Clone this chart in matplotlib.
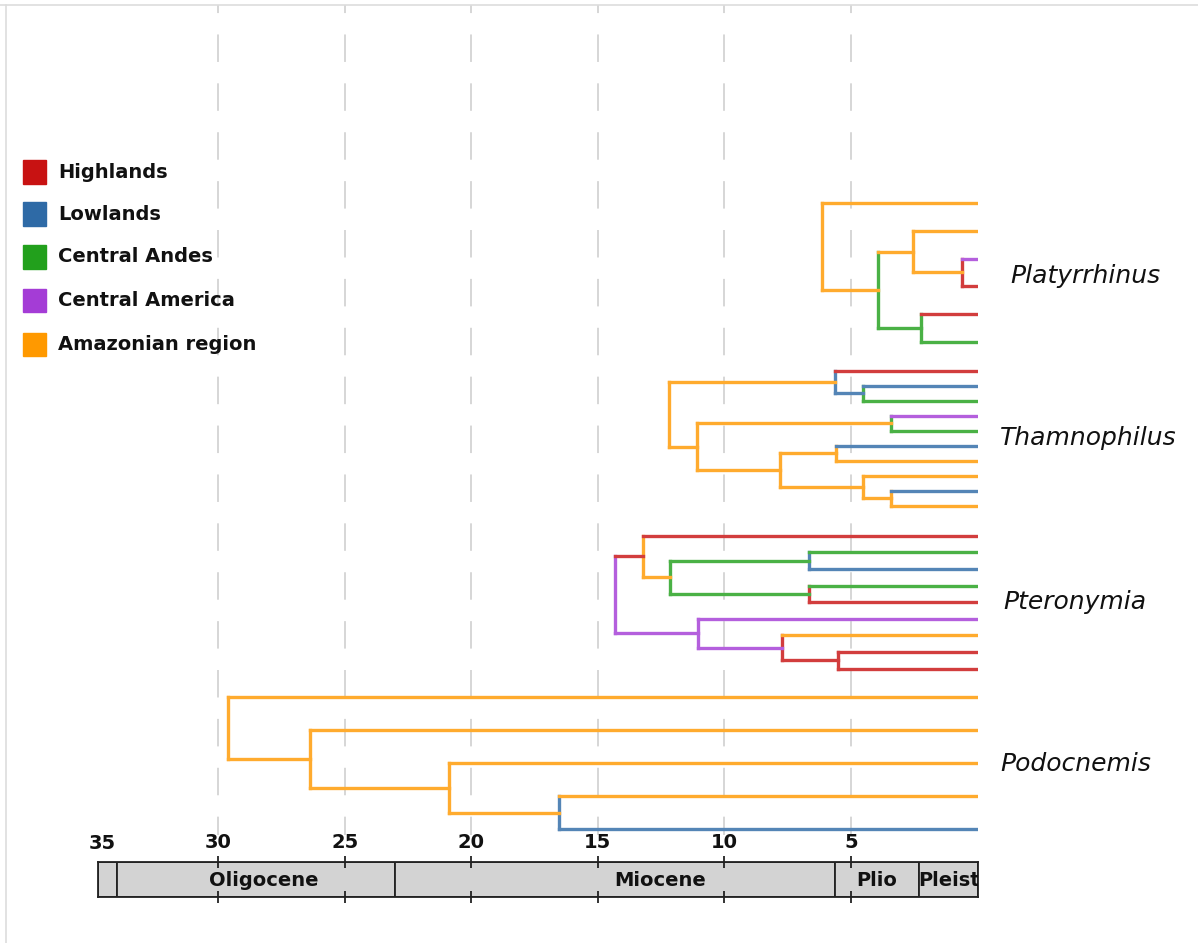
import matplotlib
matplotlib.use("Agg")
from matplotlib import pyplot as plt
from matplotlib.colors import to_rgb
from matplotlib.lines import Line2D
from matplotlib.patches import Rectangle

# region colours (legend order)
regions = ["Highlands", "Lowlands", "Central Andes", "Central America", "Amazonian region"]
region_keys = ["hi", "lo", "ca", "cm", "am"]
region_colors = ["#c81212", "#2e6aa6", "#22a01c", "#a43cd6", "#ff9900"]

# trees: node = (age in Ma, colour of the vertical, [(branch colour, child), ...]); tip = None
TIP = None
platyrrhinus = (6.15, "am", [("am", TIP),
                             ("am", (3.93, "ca", [("am", (2.55, "am", [("am", TIP),
                                                                       ("am", (0.62, "hi", [("cm", TIP), ("hi", TIP)]))])),
                                                  ("ca", (2.24, "ca", [("hi", TIP), ("ca", TIP)]))]))])

thamnophilus = (12.19, "am", [("am", (5.63, "lo", [("hi", TIP),
                                                   ("lo", (4.54, "ca", [("lo", TIP), ("ca", TIP)]))])),
                              ("am", (11.1, "am", [("am", (3.43, "ca", [("cm", TIP), ("ca", TIP)])),
                                                   ("am", (7.8, "am", [("am", (5.6, "am", [("lo", TIP), ("am", TIP)])),
                                                                       ("am", (4.51, "am", [("am", TIP),
                                                                                            ("am", (3.43, "am", [("lo", TIP), ("am", TIP)]))]))]))]))])

pteronymia = (14.32, "cm", [("hi", (13.23, "am", [("hi", TIP),
                                                  ("am", (12.15, "ca", [("ca", (6.65, "lo", [("ca", TIP), ("lo", TIP)])),
                                                                        ("ca", (6.65, "hi", [("ca", TIP), ("hi", TIP)]))]))])),
                            ("cm", (11.03, "cm", [("cm", TIP),
                                                  ("cm", (7.74, "hi", [("am", TIP),
                                                                       ("hi", (5.53, "hi", [("hi", TIP), ("hi", TIP)]))]))]))])

podocnemis = (29.62, "am", [("am", TIP),
                            ("am", (26.37, "am", [("am", TIP),
                                                  ("am", (20.9, "am", [("am", TIP),
                                                                       ("am", (16.52, "lo", [("am", TIP), ("lo", TIP)]))]))]))])

clade_names = ["Platyrrhinus", "Thamnophilus", "Pteronymia", "Podocnemis"]
clade_trees = [platyrrhinus, thamnophilus, pteronymia, podocnemis]

# geological time scale
epoch_names = ["", "Oligocene", "Miocene", "Plio", "Pleist"]
epoch_starts = [34.75, 34.0, 23.0, 5.63, 2.31]
epoch_ends = [34.0, 23.0, 5.63, 2.31, 0.0]
tick_ages = [35, 30, 25, 20, 15, 10, 5]

# layout (pixel units, y downwards): first tip y, tip spacing, label offsets
clade_top = [203, 370.7, 535.7, 697.5]
clade_step = [27.8, 15.0, 16.63, 33.0]
label_x = [-1.28, -0.88, -1.0, -0.88]
label_dy = [4, 0, 0, 1]
epoch_label_ages = [None, 28.2, 12.55, 4.0, 1.13]

W, H = 1198, 943
fig = plt.figure(figsize=(W / 100, H / 100), dpi=100)
fig.patch.set_facecolor("white")

def fx(px):
    return px / W

def fy(py):
    return 1 - py / H

xmax = 34.75
ax = fig.add_axes([fx(98), fy(835), fx(977.6 - 98), (835 - 5) / H])
ax.set_xlim(xmax, 0)
ax.set_ylim(835, 5)
ax.set_xticks(tick_ages[1:])
ax.tick_params(length=0, labelbottom=False, labelleft=False, left=False)
for s in ax.spines.values():
    s.set_visible(False)
ax.grid(axis="x", color="#cccccc", linewidth=1.1, linestyle=(6, (18, 14)))
ax.grid(axis="y", visible=False)

line_color = {}
for k, c in zip(region_keys, region_colors):
    r, g, b = to_rgb(c)
    a = 0.82
    line_color[k] = (1 - a + a * r, 1 - a + a * g, 1 - a + a * b)

LW = 2.4

def draw(node, tips):
    if node is None:
        return tips.pop(0)
    age, vcol, children = node
    ys = []
    for bcol, child in children:
        cy = draw(child, tips)
        cage = 0.0 if child is None else child[0]
        ax.plot([age, cage], [cy, cy], color=line_color[bcol], lw=LW,
                solid_capstyle="projecting", zorder=3)
        ys.append(cy)
    ax.plot([age, age], [min(ys), max(ys)], color=line_color[vcol], lw=LW,
            solid_capstyle="projecting", zorder=2)
    return sum(ys) / len(ys)

def count_tips(node):
    if node is None:
        return 1
    return sum(count_tips(c) for _, c in node[2])

for name, tree, top, step, lx, dy in zip(clade_names, clade_trees, clade_top, clade_step, label_x, label_dy):
    n = count_tips(tree)
    tips = [top + i * step for i in range(n)]
    mid = (tips[0] + tips[-1]) / 2
    draw(tree, tips)
    ax.text(lx, mid + dy, name, style="italic", fontsize=18, ha="left", va="center",
            clip_on=False, color="#111111")

# time scale bar
axb = fig.add_axes([fx(98), fy(897), fx(977.6 - 98), 35 / H])
axb.set_xlim(xmax, 0)
axb.set_ylim(0, 1)
axb.barh(0.5, [s - e for s, e in zip(epoch_starts, epoch_ends)], left=epoch_ends, height=1,
         color="#d3d3d3", edgecolor="#222222", linewidth=1.3, zorder=1)
for name, a in zip(epoch_names, epoch_label_ages):
    if name:
        axb.text(a, 0.47, name, ha="center", va="center", fontsize=14, fontweight="bold",
                 color="#111111", clip_on=True)
axb.set_yticks([])
axb.set_xticks(tick_ages[1:])
axb.set_xticklabels([str(t) for t in tick_ages[1:]], fontsize=14, fontweight="bold")
axb.tick_params(axis="x", top=True, bottom=True, labeltop=True, labelbottom=False,
                direction="inout", length=8, width=1.2, pad=3, colors="#111111")
for s in axb.spines.values():
    s.set_linewidth(1.3)
    s.set_color("#222222")
axb.text(34.6, 1 + 13 / 35, str(tick_ages[0]), ha="center", va="baseline", fontsize=14,
         fontweight="bold", color="#111111", transform=axb.get_xaxis_transform(), clip_on=False)

# legend
leg_y = [172, 214, 257, 300, 344]
for name, c, y in zip(regions, region_colors, leg_y):
    fig.add_artist(Rectangle((fx(23), fy(y + 11.5)), fx(23), 23 / H, facecolor=c,
                             edgecolor=c, transform=fig.transFigure))
    fig.text(fx(58), fy(y), name, fontsize=14, fontweight="bold", ha="left", va="center",
             color="#111111")

# light frame lines (top and left)
fig.add_artist(Line2D([0, 1], [fy(5), fy(5)], color="#dddddd", lw=1.2, transform=fig.transFigure))
fig.add_artist(Line2D([fx(6), fx(6)], [0, fy(5)], color="#dddddd", lw=1.2, transform=fig.transFigure))

fig.savefig("out.png", dpi=100)
